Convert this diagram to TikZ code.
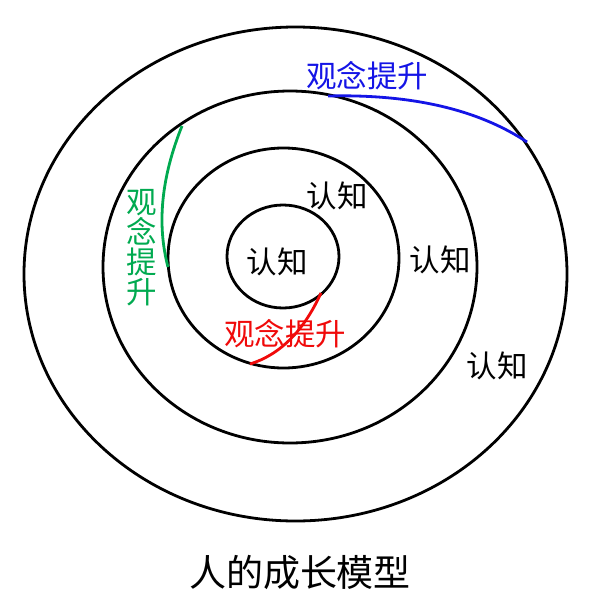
\documentclass[tikz,border=0pt]{standalone}
\usepackage{fontspec}
\newfontfamily\cjk{Noto Sans CJK SC}
\definecolor{lblue}{RGB}{20,20,230}
\definecolor{lgreen}{RGB}{0,170,80}
\definecolor{lred}{RGB}{240,10,10}
\begin{document}
\begin{tikzpicture}[x=1pt,y=-1pt,
  ring/.style={draw=black,line width=2.8pt},
  lbl/.style={font=\cjk\fontsize{30.5}{30}\selectfont,inner sep=0pt},
  flow/.style={line width=2.8pt}]
\useasboundingbox[fill=white] (0,0) rectangle (600,606);
% rings
\draw[ring] (295.5,274) ellipse [x radius=271.5, y radius=247];
\draw[ring] (290,267) ellipse [x radius=187, y radius=176];
\draw[ring] (283.5,258) ellipse [x radius=115.5, y radius=110];
\draw[ring] (283,256.5) ellipse [x radius=56, y radius=51.5];
% labels
\node[lbl] (k1) at (277,262) {认知};
\node[lbl] (k2) at (337,196) {认知};
\node[lbl] (k3) at (440,260) {认知};
\node[lbl] (k4) at (497,366) {认知};
\node[lbl,text=lblue] (gb) at (367,76) {观念提升};
\node[lbl,text=lgreen,align=center] (gg) at (142,248) {观\\念\\提\\升};
\node[lbl,text=lred] (gr) at (285,334) {观念提升};
\node[font=\cjk\fontsize{37}{38}\selectfont,inner sep=0pt] (title) at (300,572) {人的成长模型};
% curve ends
\coordinate (b1) at (328,96);
\coordinate (b2) at (527,142);
\coordinate (g1) at (182,126);
\coordinate (g2) at (168,267);
\coordinate (r1) at (250,364);
\coordinate (r2) at (321,293);
\draw[flow,draw=lblue] (b1) .. controls (411.3,94) and (477.7,109.3) .. (b2);
\draw[flow,draw=lgreen] (g1) .. controls (161.3,177.3) and (156.7,224.3) .. (g2);
\draw[flow,draw=lred] (r1) .. controls (280,354.7) and (303.7,331) .. (r2);
\end{tikzpicture}
\end{document}
